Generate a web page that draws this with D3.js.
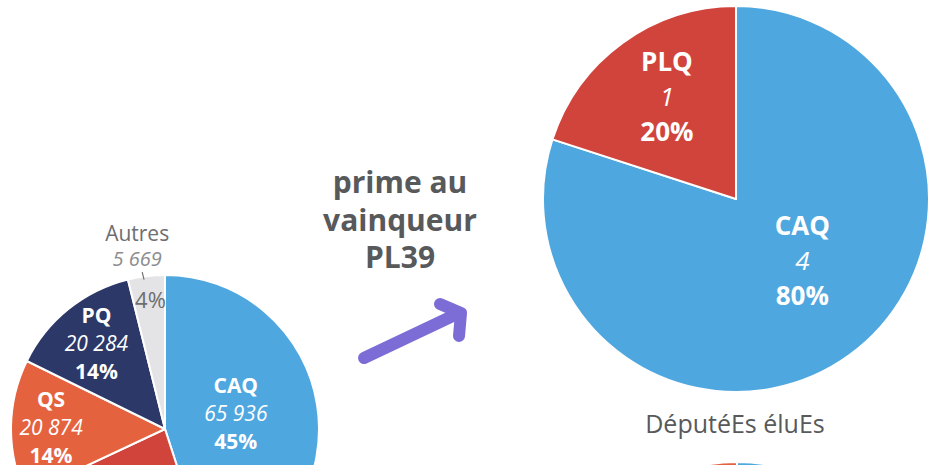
<!DOCTYPE html>
<html>
<head>
<meta charset="utf-8">
<script src="https://cdn.jsdelivr.net/npm/d3@7"></script>
<style>
  html, body { margin: 0; padding: 0; background: #fff; overflow: hidden; }
  svg { display: block; font-family: "Open Sans", "Noto Sans", sans-serif; }
</style>
</head>
<body>
<svg id="chart" width="945" height="465"></svg>
<script>
// ---- Data ----
const voteParties = ["CAQ", "PLQ", "QS", "PQ", "Autres"];
const voteValues  = [65936, 33700, 20874, 20284, 5669];
const voteLabels  = ["65 936", "33 700", "20 874", "20 284", "5 669"];
const votePct     = ["45%", "23%", "14%", "14%", "4%"];

const seatParties = ["CAQ", "PLQ"];
const seatValues  = [4, 1];
const seatLabels  = ["4", "1"];
const seatPct     = ["80%", "20%"];

const propParties = ["CAQ", "PLQ", "PQ", "QS"];
const propValues  = [2, 1, 1, 1];

const titleLines  = ["prime au", "vainqueur", "PL39"];
const seatsTitle  = "DéputéEs éluEs";

const colors = {
  CAQ: "#4fa7df", PLQ: "#d1443c", QS: "#e5623f", PQ: "#2b3868", Autres: "#e4e4e6"
};

// ---- Drawing ----
const W = 945, H = 465;
const svg = d3.select("#chart");
const pie = d3.pie().sort(null).value(d => d.value);

function drawPie(g, parties, values, R) {
  const data = parties.map((p, i) => ({ party: p, value: values[i], i }));
  const arcs = pie(data);
  const arc = d3.arc().innerRadius(0).outerRadius(R);
  g.selectAll("path.slice").data(arcs).join("path")
    .attr("class", "slice")
    .attr("d", arc)
    .attr("fill", d => colors[d.data.party])
    .attr("stroke", "#fff")
    .attr("stroke-width", 2)
    .attr("stroke-linejoin", "round");
  return arcs;
}

function polar(angle, r) {
  return [Math.sin(angle) * r, -Math.cos(angle) * r];
}

function blockLabel(g, x, y, lines, size, lh, fills, styles) {
  // y = baseline of the middle line
  const t = g.append("text").attr("text-anchor", "middle").attr("font-size", size);
  lines.forEach((s, k) => {
    t.append("tspan")
      .attr("x", x)
      .attr("y", y + (k - 1) * lh)
      .attr("fill", fills[k])
      .attr("font-weight", styles[k] === "b" ? 700 : 400)
      .attr("font-style", styles[k] === "i" ? "italic" : "normal")
      .text(s);
  });
}

// Left pie: votes
{
  const R = 154, cx = 165, cy = 429;
  const g = svg.append("g").attr("transform", `translate(${cx},${cy})`);
  const arcs = drawPie(g, voteParties, voteValues, R);
  const rf = { CAQ: 0.47, PLQ: 0.72, QS: 0.74, PQ: 0.71 };
  const da = { CAQ: -3 };
  arcs.forEach(a => {
    const p = a.data.party, i = a.data.i;
    const mid = (a.startAngle + a.endAngle) / 2;
    if (p === "Autres") {
      const ang = mid - 2 * Math.PI / 180;
      const [ox, oy] = polar(ang, R * 1.16);
      g.append("text").attr("x", ox).attr("y", oy - 12).attr("text-anchor", "middle")
        .attr("font-size", 21).attr("fill", "#6d6e71").text(p);
      g.append("text").attr("x", ox).attr("y", oy + 13).attr("text-anchor", "middle")
        .attr("font-size", 20).attr("font-style", "italic").attr("fill", "#8c8c8e").text(voteLabels[i]);
      const [t1x, t1y] = polar(mid - 1.3 * Math.PI / 180, R * 1.03);
      const [t2x, t2y] = polar(mid - 1.0 * Math.PI / 180, R * 0.98);
      g.append("line").attr("x1", t1x).attr("y1", t1y).attr("x2", t2x).attr("y2", t2y)
        .attr("stroke", "#6d6e71").attr("stroke-width", 1.2);
      const [px, py] = polar(mid + 0.5 * Math.PI / 180, R * 0.84);
      g.append("text").attr("x", px).attr("y", py + 8).attr("text-anchor", "middle")
        .attr("font-size", 22).attr("fill", "#6d6e71").text(votePct[i]);
    } else {
      const ang = mid + (da[p] || 0) * Math.PI / 180;
      const [x, y] = polar(ang, R * rf[p]);
      // labels falling entirely outside the picture are not drawn
      if (cy + y - 28 - 16 > H) return;
      blockLabel(g, x, y + 7, [p, voteLabels[i], votePct[i]], 21, 28,
        ["#fff", "#fff", "#fff"], ["b", "i", "b"]);
    }
  });
}

// Right pie: seats with winner bonus
{
  const R = 193, cx = 736, cy = 199;
  const g = svg.append("g").attr("transform", `translate(${cx},${cy})`);
  const arcs = drawPie(g, seatParties, seatValues, R);
  const rf = { CAQ: 0.47, PLQ: 0.64 };
  const da = { CAQ: -11, PLQ: 2 };
  arcs.forEach(a => {
    const p = a.data.party, i = a.data.i;
    const mid = (a.startAngle + a.endAngle) / 2 + (da[p] || 0) * Math.PI / 180;
    const [x, y] = polar(mid, R * rf[p]);
    blockLabel(g, x, y + 9, [p, seatLabels[i], seatPct[i]], 26, 35,
      ["#fff", "#fff", "#fff"], ["b", "i", "b"]);
  });
}

// Bottom pie (mostly off-screen)
{
  const R = 172, cx = 737, cy = 462 + R;
  const g = svg.append("g").attr("transform", `translate(${cx},${cy})`);
  drawPie(g, propParties, propValues, R);
}

// Title text
{
  const t = svg.append("text").attr("text-anchor", "middle")
    .attr("font-size", 30).attr("font-weight", 700).attr("fill", "#58595b");
  titleLines.forEach((s, k) => {
    t.append("tspan").attr("x", 400).attr("y", 193 + k * 37.5).text(s);
  });
}

// Arrow
{
  const g = svg.append("g").attr("fill", "none").attr("stroke", "#7c6cd6")
    .attr("stroke-width", 12).attr("stroke-linecap", "round").attr("stroke-linejoin", "round");
  g.append("path").attr("d", d3.line()([[364, 358], [459, 313]]));
  g.append("path").attr("d", d3.line()([[440, 304], [461, 313], [459, 336]]));
}

// Seats title
svg.append("text").attr("x", 735).attr("y", 433).attr("text-anchor", "middle")
  .attr("font-size", 25).attr("fill", "#58595b").text(seatsTitle);
</script>
</body>
</html>
